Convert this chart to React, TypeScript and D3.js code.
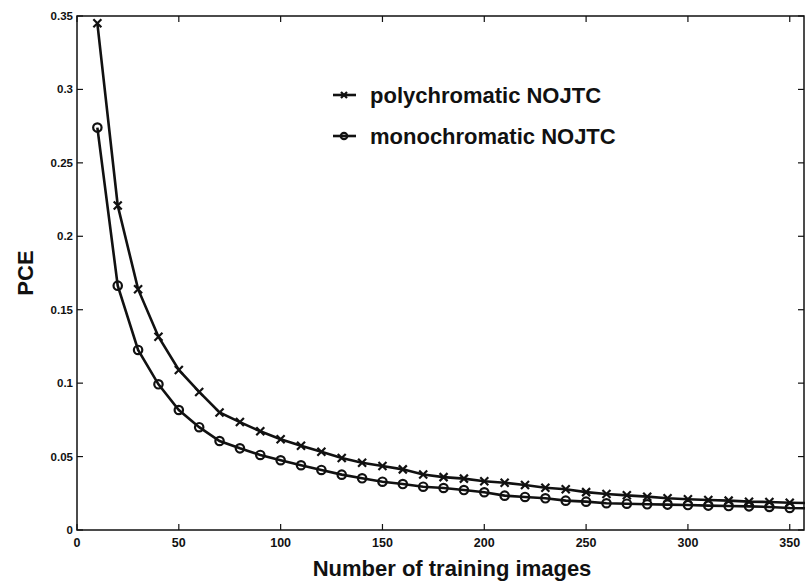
import React, { useEffect, useRef } from "react";
import * as d3 from "d3";

// training set sizes
const trainingImages = [
  10, 20, 30, 40, 50, 60, 70, 80, 90, 100, 110, 120, 130, 140, 150, 160, 170, 180,
  190, 200, 210, 220, 230, 240, 250, 260, 270, 280, 290, 300, 310, 320, 330, 340,
  350, 360
];

const polychromatic = [
  0.345, 0.221, 0.164, 0.1316, 0.109, 0.094, 0.080, 0.0735, 0.0672, 0.0618, 0.0574,
  0.0533, 0.0490, 0.0458, 0.0436, 0.0413, 0.0378, 0.0360, 0.0350, 0.0332, 0.0322,
  0.0306, 0.0288, 0.0277, 0.0258, 0.0245, 0.0236, 0.0227, 0.0216, 0.0209, 0.0204,
  0.0200, 0.0193, 0.0191, 0.0186, 0.0183
];

const monochromatic = [
  0.274, 0.1664, 0.1226, 0.0992, 0.0817, 0.0700, 0.0606, 0.0556, 0.0511, 0.0475,
  0.0441, 0.0409, 0.0377, 0.0352, 0.0329, 0.0313, 0.0295, 0.0286, 0.0272, 0.0257,
  0.0234, 0.0225, 0.0216, 0.0200, 0.0193, 0.0182, 0.0179, 0.0175, 0.0173, 0.0170,
  0.0166, 0.0163, 0.0161, 0.0157, 0.0150, 0.0148
];

const yTicks = [0, 0.05, 0.1, 0.15, 0.2, 0.25, 0.3, 0.35];
const yTickLabels = ["0", "0.05", "0.1", "0.15", "0.2", "0.25", "0.3", "0.35"];
const xTicks = [0, 50, 100, 150, 200, 250, 300, 350];

const seriesNames = ["polychromatic NOJTC", "monochromatic NOJTC"];

const INK = "#111";

function App() {
  const svgRef = useRef(null);

  useEffect(() => {
    const width = 805;
    const height = 586;
    const margin = { left: 77, right: 1, top: 16, bottom: 56 };

    const svg = d3.select(svgRef.current).attr("width", width).attr("height", height);
    svg.selectAll("*").remove();

    const x = d3
      .scaleLinear()
      .domain([0, 357])
      .range([margin.left, width - margin.right]);
    const y = d3
      .scaleLinear()
      .domain([0, 0.35])
      .range([height - margin.bottom, margin.top]);

    const [x0, x1] = x.range();
    const [y0, y1] = y.range();

    // frame
    svg
      .append("rect")
      .attr("x", x0)
      .attr("y", y1)
      .attr("width", x1 - x0)
      .attr("height", y0 - y1)
      .attr("fill", "none")
      .attr("stroke", INK)
      .attr("stroke-width", 1.5);

    const font = "'Liberation Sans', Arial, sans-serif";

    // y ticks, inside on left and right
    const yAxisG = svg.append("g");
    yTicks.forEach((t, i) => {
      yAxisG
        .append("line")
        .attr("x1", x0)
        .attr("x2", x0 + 6)
        .attr("y1", y(t))
        .attr("y2", y(t))
        .attr("stroke", INK)
        .attr("stroke-width", 1.2);
      yAxisG
        .append("line")
        .attr("x1", x1)
        .attr("x2", x1 - 6)
        .attr("y1", y(t))
        .attr("y2", y(t))
        .attr("stroke", INK)
        .attr("stroke-width", 1.2);
      yAxisG
        .append("text")
        .attr("x", x0 - 4)
        .attr("y", y(t))
        .attr("dy", "0.35em")
        .attr("text-anchor", "end")
        .attr("font-family", font)
        .attr("font-weight", "bold")
        .attr("font-size", 11.5)
        .attr("fill", INK)
        .text(yTickLabels[i]);
    });

    // x ticks, inside on bottom and top
    const xAxisG = svg.append("g");
    xTicks.forEach(t => {
      xAxisG
        .append("line")
        .attr("x1", x(t))
        .attr("x2", x(t))
        .attr("y1", y0)
        .attr("y2", y0 - 6)
        .attr("stroke", INK)
        .attr("stroke-width", 1.2);
      xAxisG
        .append("line")
        .attr("x1", x(t))
        .attr("x2", x(t))
        .attr("y1", y1)
        .attr("y2", y1 + 6)
        .attr("stroke", INK)
        .attr("stroke-width", 1.2);
      xAxisG
        .append("text")
        .attr("x", x(t))
        .attr("y", y0 + 17)
        .attr("text-anchor", "middle")
        .attr("font-family", font)
        .attr("font-weight", "bold")
        .attr("font-size", 12.5)
        .attr("fill", INK)
        .text(t);
    });

    // axis titles
    svg
      .append("text")
      .attr("x", 452)
      .attr("y", 576)
      .attr("text-anchor", "middle")
      .attr("font-family", font)
      .attr("font-weight", "bold")
      .attr("font-size", 22)
      .attr("fill", INK)
      .text("Number of training images");

    svg
      .append("text")
      .attr("transform", `translate(33,${(y0 + y1) / 2}) rotate(-90)`)
      .attr("text-anchor", "middle")
      .attr("font-family", font)
      .attr("font-weight", "bold")
      .attr("font-size", 22)
      .attr("fill", INK)
      .text("PCE");

    const line = d3
      .line()
      .x(d => x(d[0]))
      .y(d => y(d[1]));

    const polyPts = trainingImages.map((t, i) => [t, polychromatic[i]]);
    const monoPts = trainingImages.map((t, i) => [t, monochromatic[i]]);

    [polyPts, monoPts].forEach(pts => {
      svg
        .append("path")
        .attr("d", line(pts))
        .attr("fill", "none")
        .attr("stroke", INK)
        .attr("stroke-width", 2.6);
    });

    const cross = (g, cx, cy, s) => {
      g.append("path")
        .attr("d", `M${cx - s},${cy - s}L${cx + s},${cy + s}M${cx - s},${cy + s}L${cx + s},${cy - s}`)
        .attr("stroke", INK)
        .attr("stroke-width", 2.2)
        .attr("fill", "none");
    };
    const ring = (g, cx, cy, r) => {
      g.append("circle")
        .attr("cx", cx)
        .attr("cy", cy)
        .attr("r", r)
        .attr("fill", "none")
        .attr("stroke", INK)
        .attr("stroke-width", 2.2);
    };

    const markers = svg.append("g");
    polyPts.forEach(d => cross(markers, x(d[0]), y(d[1]), 4));
    monoPts.forEach(d => ring(markers, x(d[0]), y(d[1]), 4.2));

    // legend
    const legend = svg.append("g");
    seriesNames.forEach((name, i) => {
      const ly = 95 + i * 41;
      legend
        .append("line")
        .attr("x1", 333)
        .attr("x2", 356)
        .attr("y1", ly)
        .attr("y2", ly)
        .attr("stroke", INK)
        .attr("stroke-width", 2.6);
      if (i === 0) cross(legend, 344, ly, 3);
      else ring(legend, 344, ly, 3.2);
      legend
        .append("text")
        .attr("x", 370)
        .attr("y", ly)
        .attr("dy", "0.35em")
        .attr("font-family", font)
        .attr("font-weight", "bold")
        .attr("font-size", 22)
        .attr("fill", INK)
        .text(name);
    });
  }, []);

  return (
    <div>
      <svg
        ref={svgRef}
        style={{ position: "absolute", left: 0, top: 0, background: "#fff" }}
      ></svg>
    </div>
  );
}

export default App;
